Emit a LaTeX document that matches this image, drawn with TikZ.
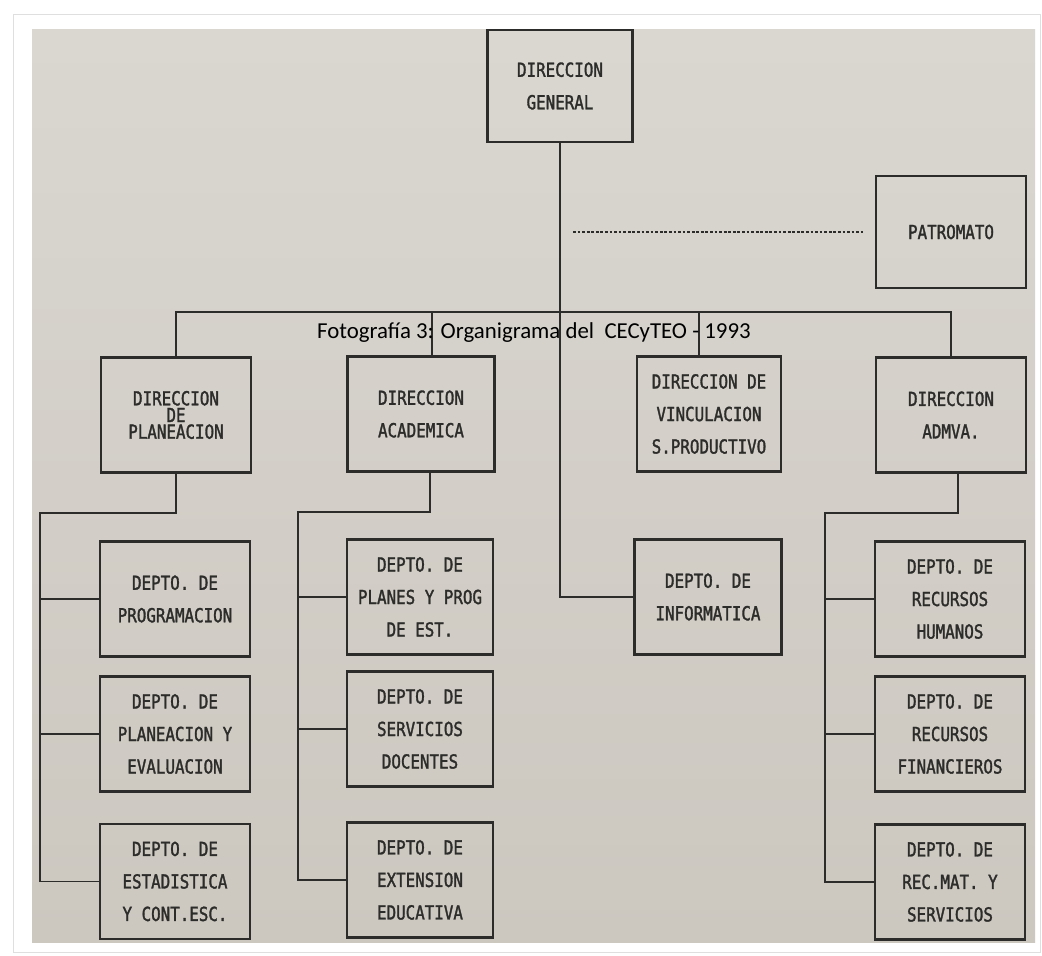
\documentclass[tikz,border=0pt]{standalone}
\usepackage{fontspec}
\setmainfont{Carlito}
\newfontfamily\boxfont{DejaVu Sans Mono}[FakeStretch=0.82,FakeBold=1.6]
\usetikzlibrary{positioning}
\definecolor{phototop}{RGB}{218,215,209}
\definecolor{photobot}{RGB}{204,199,191}
\definecolor{ink}{RGB}{44,44,42}

\begin{document}
\begin{tikzpicture}[x=0.02cm,y=-0.02cm,on grid,
    unit/.style={draw=ink,line width=1.4pt,text=ink,align=center,
      minimum width=3cm,minimum height=2.3cm,inner sep=2pt,
      font=\boxfont\fontsize{11pt}{18.5pt}\selectfont},
    link/.style={draw=ink,line width=0.9pt}]
  \useasboundingbox (0,0) rectangle (1042,956);
  \draw[gray!25,fill=white] (13,14) rectangle (1040,952);
  \shade[top color=phototop,bottom color=photobot] (32,30) rectangle (1035,942);

  % direcciones
  \node[unit,minimum width=2.9cm,minimum height=2.24cm] (gen) at (560,86) {DIRECCION\\GENERAL};
  \node[unit,minimum height=2.24cm] (pat) at (951,232) {PATROMATO};
  \node[unit] (dpl) at (176,415) {DIRECCION\\[-9pt]DE\\[-9pt]PLANEACION};
  \node[unit,minimum width=2.94cm] (dac) at (421,414) {DIRECCION\\ACADEMICA};
  \node[unit,minimum width=2.88cm] (dvi) at (709,414) {DIRECCION DE\\VINCULACION\\S.PRODUCTIVO};
  \node[unit] (dad) at (951,415) {DIRECCION\\ADMVA.};

  % departamentos
  \node[unit] (prog) at (175,599) {DEPTO. DE\\PROGRAMACION};
  \node[unit] (pev) [below=2.7cm of prog] {DEPTO. DE\\PLANEACION Y\\EVALUACION};
  \node[unit] (est) [below=2.95cm of pev] {DEPTO. DE\\ESTADISTICA\\Y CONT.ESC.};
  \node[unit,minimum width=2.92cm] (ppe) at (420,597) {DEPTO. DE\\PLANES Y PROG\\DE EST.};
  \node[unit,minimum width=2.92cm] (sdo) [below=2.64cm of ppe] {DEPTO. DE\\SERVICIOS\\DOCENTES};
  \node[unit,minimum width=2.92cm] (ext) [below=3.02cm of sdo] {DEPTO. DE\\EXTENSION\\EDUCATIVA};
  \node[unit,minimum width=2.94cm] (inf) at (708,597) {DEPTO. DE\\INFORMATICA};
  \node[unit] (rhu) at (950,599) {DEPTO. DE\\RECURSOS\\HUMANOS};
  \node[unit] (rfi) [below=2.7cm of rhu] {DEPTO. DE\\RECURSOS\\FINANCIEROS};
  \node[unit] (rms) [below=2.96cm of rfi] {DEPTO. DE\\REC.MAT. Y\\SERVICIOS};

  % lineas
  \coordinate (bus) at (560,312);
  \coordinate (sp1) at (40,513);
  \coordinate (sp2) at (298,512);
  \coordinate (sp3) at (825,513);
  \path[link] (gen.south) |- (inf.west);
  \path[link] (dpl.north) |- (bus) -| (dad.north);
  \path[link] ([xshift=0.22cm]dac.north) -- ([xshift=0.22cm]dac.north |- bus);
  \path[link] ([xshift=-0.2cm]dvi.north) -- ([xshift=-0.2cm]dvi.north |- bus);
  \path[link,dash pattern=on 1.6pt off 1pt,shorten <=0.26cm,shorten >=0.24cm]
    (gen.south |- pat.west) -- (pat.west);
  \path[link] (dpl.south) |- (sp1) |- (est.west);
  \path[link] (sp1 |- prog.west) -- (prog.west);
  \path[link] (sp1 |- pev.west) -- (pev.west);
  \path[link] ([xshift=0.18cm]dac.south) |- (sp2) |- (ext.west);
  \path[link] (sp2 |- ppe.west) -- (ppe.west);
  \path[link] (sp2 |- sdo.west) -- (sdo.west);
  \path[link] ([xshift=0.14cm]dad.south) |- (sp3) |- (rms.west);
  \path[link] (sp3 |- rhu.west) -- (rhu.west);
  \path[link] (sp3 |- rfi.west) -- (rfi.west);

  \node[font=\fontsize{13pt}{15pt}\selectfont] (cap) at (534,333)
    {Fotografía 3: Organigrama del~ CECyTEO - 1993};
\end{tikzpicture}
\end{document}
